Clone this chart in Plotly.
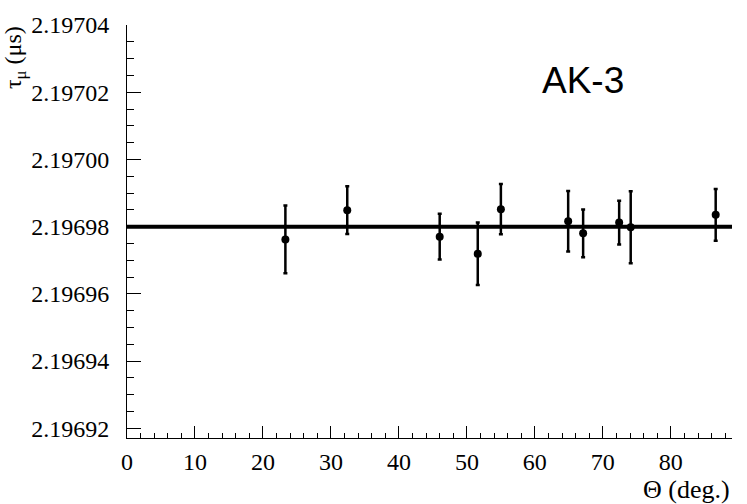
import plotly.graph_objects as go

# measured angle (deg.) and fitted lifetime with errors
theta = [23.3, 32.4, 46.0, 51.6, 55.0, 64.9, 67.1, 72.4, 74.1, 86.6]
tau = [2.1969762, 2.1969849, 2.1969770, 2.1969719, 2.1969852,
       2.1969816, 2.1969780, 2.1969812, 2.1969798, 2.1969835]
tau_err = [0.0000101, 0.0000071, 0.0000068, 0.0000093, 0.0000075,
           0.0000090, 0.0000071, 0.0000065, 0.0000107, 0.0000077]

fit_value = 2.19698
x_range = [0, 89]
y_range = [2.1969171, 2.19704]
y_ticks = [2.19692, 2.19694, 2.19696, 2.19698, 2.19700, 2.19702, 2.19704]

serif = "Liberation Serif"

fig = go.Figure()

fig.add_trace(go.Scatter(
    x=x_range,
    y=[fit_value] * len(x_range),
    mode="lines",
    line=dict(color="black", width=4),
    hoverinfo="skip",
))

fig.add_trace(go.Scatter(
    x=theta,
    y=tau,
    mode="markers",
    marker=dict(color="black", size=8),
    error_y=dict(type="data", array=tau_err, visible=True,
                 color="black", thickness=2.5, width=2),
))

fig.update_layout(
    width=747,
    height=504,
    showlegend=False,
    plot_bgcolor="white",
    paper_bgcolor="white",
    margin=dict(l=127, r=15, t=25, b=66),
    font=dict(family=serif, size=24, color="black"),
)

fig.update_xaxes(
    range=x_range,
    showgrid=False,
    zeroline=False,
    showline=True,
    linecolor="black",
    linewidth=1,
    ticks="inside",
    ticklen=12,
    tickcolor="black",
    tickvals=list(range(0, 90, 10)),
    minor=dict(ticks="inside", ticklen=5, dtick=2, tick0=0, tickcolor="black", showgrid=False),
    tickfont=dict(family=serif, size=24),
    ticklabelstandoff=2,
)

fig.update_yaxes(
    range=y_range,
    showgrid=False,
    zeroline=False,
    showline=True,
    linecolor="black",
    linewidth=1,
    ticks="inside",
    ticklen=14,
    tickcolor="black",
    tickvals=y_ticks,
    ticktext=["%.5f" % v for v in y_ticks],
    minor=dict(ticks="inside", ticklen=7, dtick=0.000005, tick0=2.19692, tickcolor="black", showgrid=False),
    tickfont=dict(family=serif, size=24),
    ticklabelstandoff=12,
)

fig.add_annotation(
    text="Θ (deg.)", xref="paper", yref="paper", x=1.0, y=-0.125,
    xanchor="right", yanchor="middle", showarrow=False,
    font=dict(family=serif, size=26),
)
fig.add_annotation(
    text="τ<sub>μ</sub> (μs)", xref="paper", yref="paper", x=-0.185, y=0.92,
    xanchor="center", yanchor="middle", textangle=-90, showarrow=False,
    font=dict(family=serif, size=24),
)
fig.add_annotation(
    text="AK-3", xref="paper", yref="paper", x=0.754, y=0.865,
    xanchor="center", yanchor="middle", showarrow=False,
    font=dict(family="Liberation Sans", size=37),
)

fig.write_html("out.html", config={"displayModeBar": False},
               post_script="document.body.style.margin='0';")
